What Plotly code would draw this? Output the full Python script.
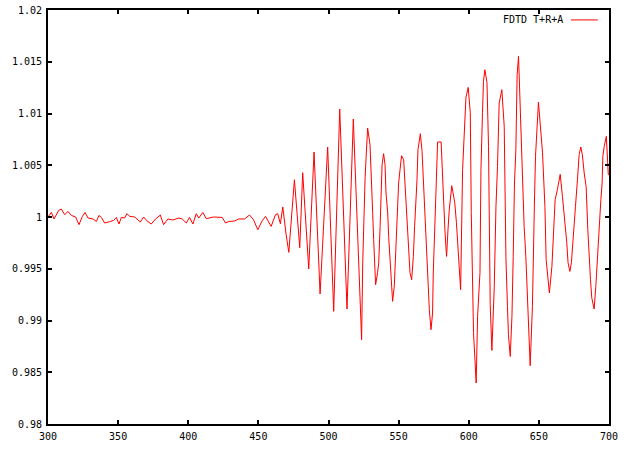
#! python3

#FDTD energy check T+R+A plotted against wavelength

import plotly.graph_objs as go

#data
x_vals = [300.0, 302.4, 304.3, 307.6, 309.5, 311.9, 314.2, 316.7, 319.7, 322.1,
          324.5, 326.4, 328.5, 332.1, 334.5, 336.3, 338.0, 340.4, 343.9, 346.8,
          348.7, 350.6, 352.3, 354.6, 356.3, 358.2, 361.8, 365.8, 368.2, 370.5,
          373.6, 376.7, 380.1, 382.4, 385.5, 389.0, 393.3, 395.7, 398.6, 400.9,
          403.3, 405.7, 407.5, 410.4, 412.8, 418.0, 424.2, 426.6, 428.9, 433.0,
          436.0, 440.1, 443.7, 446.5, 449.6, 452.7, 455.1, 459.1, 462.2, 463.8,
          465.7, 467.4, 469.8, 471.7, 475.7, 479.5, 481.6, 485.9, 489.7, 494.0,
          499.4, 503.7, 508.0, 513.2, 517.7, 523.6, 524.4, 525.1, 526.1, 526.8,
          527.9, 529.6, 530.3, 531.5, 532.2, 532.9, 533.6, 535.0, 535.8, 536.8,
          537.5, 538.2, 539.3, 540.3, 541.0, 542.2, 542.9, 544.1, 545.0, 545.7,
          546.9, 547.6, 548.6, 549.3, 550.0, 551.0, 552.1, 553.6, 554.6, 555.3,
          556.4, 557.1, 558.1, 559.3, 560.5, 561.4, 562.4, 563.1, 563.8, 565.5,
          566.7, 567.6, 568.5, 569.5, 570.7, 571.4, 571.9, 573.1, 574.2, 574.7,
          575.6, 576.6, 577.4, 577.8, 580.3, 581.8, 583.0, 583.7, 584.2, 585.2,
          586.1, 587.9, 590.0, 591.2, 592.6, 594.2, 595.6, 596.8, 598.0, 599.6,
          601.1, 601.8, 602.7, 603.4, 605.3, 606.3, 608.0, 608.7, 609.8, 610.5,
          611.5, 613.0, 614.1, 614.8, 615.3, 616.5, 617.2, 618.2, 619.4, 620.5,
          621.7, 623.6, 625.3, 625.8, 626.5, 627.6, 628.3, 629.6, 630.8, 631.7,
          632.6, 633.6, 634.5, 635.5, 636.5, 637.4, 638.3, 639.5, 640.7, 641.9,
          642.6, 643.8, 645.4, 646.2, 646.9, 647.6, 648.3, 649.7, 652.6, 654.3,
          655.2, 657.5, 659.3, 660.2, 661.6, 663.2, 665.2, 666.8, 668.5, 669.9,
          670.8, 672.1, 673.2, 674.6, 676.1, 677.5, 678.7, 679.9, 681.0, 682.3,
          683.7, 684.9, 685.8, 686.8, 687.7, 689.4, 690.6, 691.7, 693.2, 694.2,
          695.1, 695.6, 696.6, 698.1, 699.5, 700.0]
y_vals = [1.00000, 1.00044, 0.99981, 1.00064, 1.00077, 1.00022, 1.00054, 1.00015, 1.00000, 0.99926,
          1.00006, 1.00044, 0.99990, 0.99981, 0.99957, 1.00015, 0.99996, 0.99942, 0.99955, 0.99967,
          0.99996, 0.99932, 0.99996, 0.99990, 1.00032, 1.00006, 1.00000, 0.99952, 1.00000, 0.99964,
          0.99932, 0.99981, 1.00019, 0.99926, 0.99981, 0.99971, 0.99990, 0.99981, 0.99942, 0.99996,
          0.99932, 1.00032, 0.99990, 1.00044, 0.99984, 1.00000, 0.99996, 0.99942, 0.99957, 0.99961,
          0.99981, 0.99981, 1.00019, 0.99974, 0.99877, 0.99964, 1.00006, 0.99909, 1.00022, 1.00032,
          0.99935, 1.00097, 0.99829, 0.99658, 1.00360, 0.99703, 1.00428, 0.99498, 1.00628, 0.99256,
          1.00676, 0.99088, 1.01043, 0.99111, 1.00947, 0.98814, 0.99558, 1.00042, 1.00380, 1.00573,
          1.00860, 1.00699, 1.00380, 1.00042, 0.99781, 0.99607, 0.99346, 0.99462, 0.99558, 0.99909,
          1.00264, 1.00505, 1.00612, 1.00505, 1.00232, 1.00039, 0.99813, 0.99587, 0.99329, 0.99185,
          0.99329, 0.99571, 0.99813, 1.00102, 1.00329, 1.00457, 1.00592, 1.00554, 1.00329, 1.00102,
          0.99909, 0.99716, 0.99462, 0.99394, 0.99619, 0.99909, 1.00135, 1.00360, 1.00650, 1.00805,
          1.00634, 1.00360, 1.00135, 0.99845, 0.99556, 0.99329, 0.99104, 0.98911, 0.99072, 0.99459,
          0.99877, 1.00167, 1.00554, 1.00725, 1.00725, 1.00167, 0.99877, 0.99716, 0.99619, 0.99877,
          1.00070, 1.00302, 1.00141, 0.99948, 0.99594, 0.99298, 1.00457, 1.00843, 1.01153, 1.01252,
          1.01008, 1.00042, 0.99491, 0.98882, 0.98396, 0.99040, 0.99462, 1.00457, 1.01008, 1.01310,
          1.01423, 1.01298, 1.00682, 1.00054, 0.99153, 0.98711, 0.98943, 0.99329, 1.00102, 1.00489,
          1.01101, 1.01230, 1.00875, 1.00071, 0.99607, 0.99136, 0.98863, 0.98653, 0.99040, 0.99619,
          1.00329, 1.00650, 1.01375, 1.01552, 1.01133, 1.00682, 1.00232, 0.99909, 0.99619, 0.99233,
          0.98882, 0.98563, 0.99136, 0.99558, 1.00184, 1.00586, 1.00795, 1.01111, 1.00621, 1.00102,
          0.99587, 0.99266, 0.99523, 0.99781, 1.00167, 1.00264, 1.00412, 1.00199, 0.99974, 0.99752,
          0.99558, 0.99474, 0.99558, 0.99781, 1.00102, 1.00360, 1.00602, 1.00676, 1.00602, 1.00425,
          1.00296, 0.99877, 0.99587, 0.99394, 0.99220, 0.99111, 0.99329, 0.99619, 0.99974, 1.00167,
          1.00329, 1.00585, 1.00682, 1.00779, 1.00409, 1.00409]

#axis ticks
x_ticks = [300, 350, 400, 450, 500, 550, 600, 650, 700]
y_ticks = [0.98, 0.985, 0.99, 0.995, 1.0, 1.005, 1.01, 1.015, 1.02]
y_tick_text = ['0.98', '0.985', '0.99', '0.995', '1', '1.005', '1.01', '1.015', '1.02']

series_name = 'FDTD T+R+A'

fig = go.Figure()
fig.add_trace(go.Scatter(x=x_vals, y=y_vals, mode='lines',
                         line=dict(color='#ff0000', width=1),
                         name=series_name, showlegend=False))

axis_style = dict(showline=True, linecolor='black', linewidth=2, mirror='ticks',
                  ticks='inside', ticklen=4, tickwidth=2, tickcolor='black',
                  showgrid=False, zeroline=False, automargin=False,
                  ticklabeloverflow='allow')

fig.update_xaxes(range=[300, 700], tickvals=x_ticks, ticklabelstandoff=2, **axis_style)
fig.update_yaxes(range=[0.98, 1.02], tickvals=y_ticks, ticktext=y_tick_text,
                 ticklabelstandoff=2, **axis_style)

#gnuplot style key: text then line sample
fig.add_annotation(x=0.922, y=0.976, xref='paper', yref='paper', text=series_name,
                   showarrow=False, xanchor='right', yanchor='middle',
                   font=dict(size=10, color='black', family='DejaVu Sans Mono'))
fig.add_shape(type='line', xref='paper', yref='paper', x0=0.932, x1=0.980,
              y0=0.976, y1=0.976, line=dict(color='#ff0000', width=1))

fig.update_layout(width=634, height=452,
                  margin=dict(l=48, r=25, t=10, b=28),
                  paper_bgcolor='white', plot_bgcolor='white',
                  font=dict(family='DejaVu Sans Mono', size=10, color='black'))

#drop the default body margin so the frame sits where gnuplot put it
fig.write_html("out.html", config={'displayModeBar': False},
               post_script="document.body.style.margin='0';")
